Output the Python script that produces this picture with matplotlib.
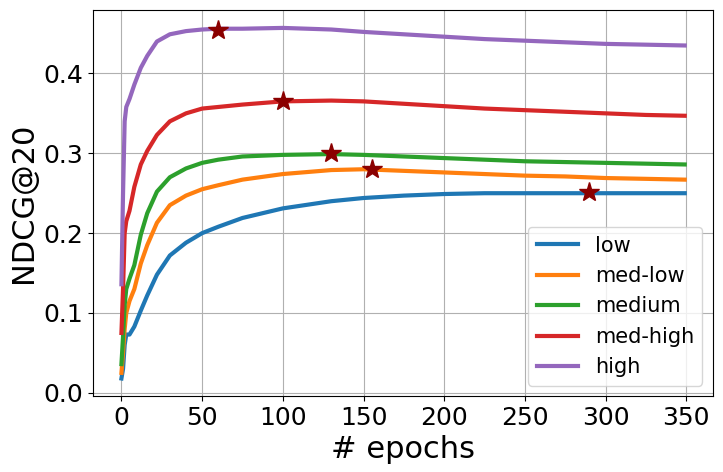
import matplotlib
matplotlib.use("Agg")
import matplotlib.pyplot as plt

epochs = [0, 1, 2, 3, 5, 8, 12, 16, 22, 30, 40, 50, 60, 75, 100, 130, 150,
          175, 200, 225, 250, 275, 300, 325, 349]

low = [0.018, 0.030, 0.060, 0.073, 0.073, 0.083, 0.103, 0.122, 0.148, 0.172,
       0.188, 0.200, 0.208, 0.219, 0.231, 0.240, 0.244, 0.247, 0.249, 0.250,
       0.250, 0.250, 0.250, 0.250, 0.250]
med_low = [0.025, 0.050, 0.080, 0.100, 0.115, 0.130, 0.162, 0.185, 0.213, 0.235,
           0.247, 0.255, 0.260, 0.267, 0.274, 0.279, 0.280, 0.278, 0.276, 0.274,
           0.272, 0.271, 0.269, 0.268, 0.267]
medium = [0.036, 0.070, 0.110, 0.130, 0.143, 0.160, 0.198, 0.225, 0.252, 0.270,
          0.281, 0.288, 0.292, 0.296, 0.298, 0.299, 0.298, 0.296, 0.294, 0.292,
          0.290, 0.289, 0.288, 0.287, 0.286]
med_high = [0.075, 0.130, 0.200, 0.215, 0.228, 0.258, 0.286, 0.303, 0.323, 0.340,
            0.350, 0.356, 0.358, 0.361, 0.365, 0.366, 0.365, 0.362, 0.359, 0.356,
            0.354, 0.352, 0.350, 0.348, 0.347]
high = [0.136, 0.250, 0.340, 0.358, 0.368, 0.386, 0.407, 0.422, 0.440, 0.449,
        0.453, 0.455, 0.456, 0.456, 0.457, 0.455, 0.452, 0.449, 0.446, 0.443,
        0.441, 0.439, 0.437, 0.436, 0.435]

labels = ['low', 'med-low', 'medium', 'med-high', 'high']
series = [low, med_low, medium, med_high, high]

# best epoch for each setting
best_epochs = [290, 155, 130, 100, 60]
best_values = [0.252, 0.280, 0.300, 0.365, 0.455]

fig, ax = plt.subplots(figsize=(7.23, 4.72), dpi=100)
for label, values in zip(labels, series):
    ax.plot(epochs, values, linewidth=3, label=label)
ax.plot(best_epochs, best_values, linestyle='none', marker='*',
        markersize=15, color='darkred')

ax.set_xlabel('# epochs', fontsize=22)
ax.set_ylabel('NDCG@20', fontsize=22)
ax.tick_params(labelsize=18)
ax.set_xticks([0, 50, 100, 150, 200, 250, 300, 350])
ax.grid(True)
ax.legend(fontsize=15, loc='lower right')

plt.subplots_adjust(left=0.129, right=0.986, top=0.978, bottom=0.161)
plt.savefig('out.png')
